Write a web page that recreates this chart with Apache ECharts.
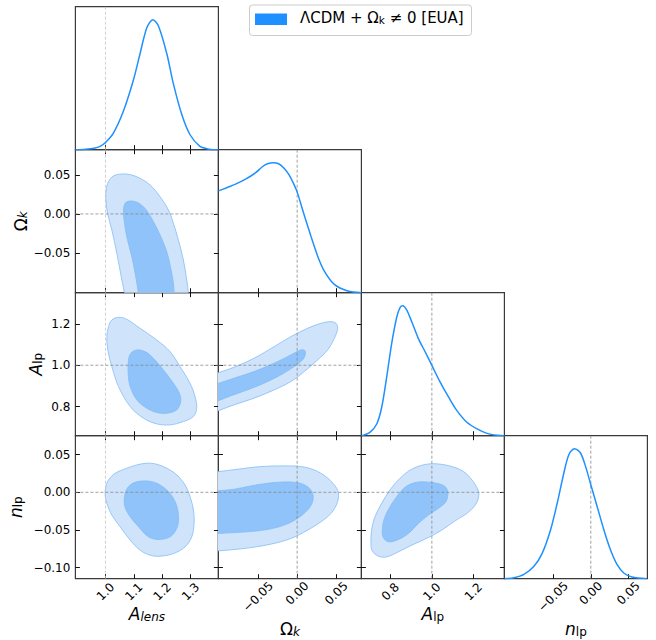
<!DOCTYPE html>
<html><head><meta charset="utf-8">
<script src="https://cdn.jsdelivr.net/npm/echarts@6/dist/echarts.min.js"></script>
<style>html,body{margin:0;padding:0;background:#fff}#chart{width:656px;height:640px}</style>
</head><body><div id="chart"></div>
<script>
// ---------------- DATA ----------------
const paramKeys = ['alens', 'omk', 'alp', 'nlp'];
const legendLabel = 'ΛCDM + Ω{lsub|k} ≠ 0 [EUA]';

// axis ranges
const alensRange = [0.894, 1.398];
const omkRange = [-0.1005, 0.082];
const alpRange = [0.66, 1.35];
const nlpRange = [-0.1148, 0.0752];

// tick values and labels
const alensTicks = [1.0, 1.1, 1.2, 1.3];
const alensTickLabels = ['1.0', '1.1', '1.2', '1.3'];
const omkTicks = [-0.05, 0.0, 0.05];
const omkTickLabels = ['\u22120.05', '0.00', '0.05'];
const alpTicks = [0.8, 1.0, 1.2];
const alpTickLabels = ['0.8', '1.0', '1.2'];
const nlpXTicks = [-0.05, 0.0, 0.05];
const nlpYTicks = [-0.10, -0.05, 0.0, 0.05];
const nlpTickLabels = ['\u22120.10', '\u22120.05', '0.00', '0.05'];

// reference (fiducial) values: dashed lines
const alensRef = [1.0];
const omkRef = [0.0];
const alpRef = [1.0];
const nlpRef = [0.0];

// 1D marginal posteriors (normalised to peak = 1)
const pdfAlens = [[0.894,0.0],[0.93,0.004],[0.96,0.012],[0.981,0.026],[1.0,0.056],[1.028,0.128],[1.063,0.295],[1.099,0.54],[1.122,0.74],[1.146,0.94],[1.167,1.0],[1.187,0.95],[1.216,0.74],[1.239,0.51],[1.269,0.27],[1.298,0.115],[1.333,0.026],[1.36,0.006],[1.38,0.0],[1.398,0.0]];
const pdfOmk = [[-0.1005,0.783],[-0.0914,0.804],[-0.0786,0.835],[-0.0658,0.873],[-0.0529,0.923],[-0.0444,0.969],[-0.0379,0.992],[-0.0303,1.0],[-0.0231,0.99],[-0.0167,0.957],[-0.0103,0.906],[-0.0038,0.829],[0.0005,0.766],[0.0069,0.638],[0.0176,0.434],[0.0262,0.281],[0.0347,0.166],[0.0474,0.064],[0.0646,0.013],[0.082,0.0]];
const pdfAlp = [[0.661,0.0],[0.701,0.026],[0.734,0.09],[0.758,0.219],[0.782,0.451],[0.806,0.709],[0.831,0.915],[0.847,0.987],[0.86,1.0],[0.879,0.966],[0.903,0.876],[0.935,0.747],[0.968,0.644],[1.0,0.541],[1.04,0.412],[1.081,0.296],[1.121,0.193],[1.169,0.103],[1.218,0.052],[1.266,0.018],[1.315,0.003],[1.35,0.0]];
const pdfNlp = [[-0.1145,0.0],[-0.102,0.008],[-0.0889,0.033],[-0.0755,0.095],[-0.0645,0.197],[-0.0534,0.377],[-0.0446,0.582],[-0.0358,0.813],[-0.0292,0.954],[-0.0216,1.0],[-0.0137,0.967],[-0.007,0.864],[0.0,0.723],[0.0084,0.556],[0.0173,0.377],[0.0261,0.223],[0.035,0.108],[0.0438,0.044],[0.0549,0.013],[0.0743,0.0]];

// 2D contours: [x, y] vertices, 95% (outer) and 68% (inner)
const cAlensOmk95 = [[1.07,-0.11],[1.067,-0.101],[1.0576,-0.0842],[1.04,-0.0502],[1.0224,-0.0204],[1.0072,0.0009],[1.0013,0.0179],[1.0025,0.0306],[1.0107,0.0413],[1.028,0.0485],[1.0576,0.051],[1.087,0.0502],[1.122,0.0455],[1.1572,0.037],[1.1924,0.0221],[1.2218,0.0051],[1.2394,-0.0119],[1.257,-0.0332],[1.2746,-0.0587],[1.2864,-0.0842],[1.2922,-0.1012],[1.294,-0.11]];
const cAlensOmk68 = [[1.119,-0.11],[1.1162,-0.1012],[1.1045,-0.0757],[1.0928,-0.0544],[1.0776,-0.0332],[1.067,-0.0119],[1.0635,0.0051],[1.0694,0.0136],[1.0811,0.0162],[1.0987,0.0162],[1.122,0.0128],[1.1455,0.0043],[1.169,-0.0098],[1.1924,-0.0268],[1.2159,-0.048],[1.23,-0.0693],[1.2394,-0.0884],[1.2418,-0.1012],[1.2425,-0.11]];
const cAlensAlp95 = [[1.0048,1.138],[1.0107,1.1862],[1.0224,1.2183],[1.0459,1.2312],[1.0752,1.2215],[1.122,1.1782],[1.1807,1.122],[1.2277,1.0657],[1.2629,0.9934],[1.298,0.9131],[1.3157,0.8488],[1.3215,0.7926],[1.3098,0.7525],[1.2746,0.7284],[1.2277,0.7123],[1.1807,0.7171],[1.1338,0.7444],[1.087,0.8007],[1.0459,0.897],[1.0224,0.9934],[1.0083,1.0737]];
const cAlensAlp68 = [[1.0811,1.0256],[1.0893,1.0577],[1.1104,1.0737],[1.1397,1.0657],[1.169,1.0336],[1.2041,0.9774],[1.2394,0.9131],[1.2605,0.865],[1.2652,0.8248],[1.2511,0.7846],[1.2159,0.7685],[1.1807,0.7717],[1.1455,0.7926],[1.1104,0.8328],[1.087,0.897],[1.0799,0.9613]];
const cOmkAlp95 = [[-0.12,0.938],[-0.1,0.9645],[-0.0807,0.9902],[-0.0551,1.0336],[-0.0294,1.0898],[-0.0081,1.138],[0.0133,1.1782],[0.0304,1.2023],[0.0432,1.2103],[0.0496,1.2023],[0.0517,1.1782],[0.0475,1.13],[0.0389,1.0737],[0.0261,1.0256],[0.009,0.9693],[-0.0081,0.9211],[-0.0294,0.881],[-0.0551,0.8408],[-0.0807,0.8087],[-0.1,0.7814],[-0.12,0.753]];
const cOmkAlp68 = [[-0.12,0.888],[-0.1,0.9131],[-0.0807,0.9372],[-0.0551,0.9693],[-0.0294,1.0095],[-0.0081,1.0497],[0.0047,1.0737],[0.0099,1.0705],[0.0103,1.0497],[0.0069,1.0256],[-0.0038,0.9934],[-0.0209,0.9533],[-0.0423,0.9131],[-0.0636,0.881],[-0.085,0.8521],[-0.1,0.8296],[-0.12,0.7996]];
const cAlensNlp95 = [[1.0013,0.0075],[1.0107,0.0164],[1.0342,0.0253],[1.0752,0.032],[1.1105,0.0364],[1.1457,0.0386],[1.1809,0.0373],[1.2161,0.032],[1.2513,0.0231],[1.2806,0.0097],[1.2982,-0.0058],[1.31,-0.0236],[1.3123,-0.0414],[1.3041,-0.0592],[1.2806,-0.0725],[1.2395,-0.0814],[1.1926,-0.0849],[1.1574,-0.0836],[1.1222,-0.0769],[1.087,-0.0636],[1.0518,-0.0458],[1.0224,-0.0303],[1.0048,-0.0147],[0.9989,-0.0036]];
const cAlensNlp68 = [[1.0658,-0.0125],[1.0694,-0.0014],[1.0811,0.0075],[1.1046,0.0133],[1.1457,0.0151],[1.1809,0.012],[1.2161,0.0031],[1.2395,-0.008],[1.2536,-0.0214],[1.2572,-0.0369],[1.2513,-0.048],[1.2278,-0.0592],[1.1867,-0.0627],[1.1515,-0.0592],[1.1163,-0.0458],[1.087,-0.0325],[1.0705,-0.0214]];
const cOmkNlp95 = [[-0.12,0.026],[-0.1004,0.0275],[-0.0765,0.0306],[-0.0465,0.0342],[-0.0166,0.0351],[0.0047,0.0342],[0.0218,0.0297],[0.0368,0.0208],[0.0475,0.0097],[0.0526,-0.0005],[0.0509,-0.0147],[0.0432,-0.028],[0.0304,-0.0392],[0.0133,-0.0503],[-0.0081,-0.0614],[-0.0337,-0.0689],[-0.0679,-0.0747],[-0.1004,-0.0778],[-0.12,-0.079]];
const cOmkNlp68 = [[-0.12,0.0018],[-0.1004,0.0022],[-0.0807,0.004],[-0.0594,0.0084],[-0.038,0.012],[-0.0188,0.0137],[0.0005,0.0128],[0.0133,0.0075],[0.0197,-0.0014],[0.0197,-0.0125],[0.0133,-0.0236],[0.0005,-0.0347],[-0.0166,-0.0436],[-0.038,-0.0494],[-0.0636,-0.0525],[-0.085,-0.0538],[-0.1004,-0.0547],[-0.12,-0.0552]];
const cAlpNlp95 = [[0.706,-0.068],[0.7093,-0.0502],[0.7254,-0.0325],[0.7577,-0.0147],[0.7981,0.0031],[0.8465,0.0187],[0.903,0.0307],[0.9676,0.0369],[1.0241,0.0378],[1.0967,0.0342],[1.1532,0.0275],[1.1935,0.0164],[1.2226,0.0031],[1.2258,-0.0058],[1.2097,-0.0169],[1.1693,-0.028],[1.1128,-0.0378],[1.0483,-0.0502],[0.9837,-0.06],[0.903,-0.0702],[0.8384,-0.0791],[0.7819,-0.0858],[0.7416,-0.0849],[0.7125,-0.0778]];
const cAlpNlp68 = [[0.7609,-0.0502],[0.7706,-0.0347],[0.7981,-0.0191],[0.8304,-0.0058],[0.8707,0.0067],[0.9191,0.0129],[0.9676,0.0138],[1.0241,0.012],[1.0644,0.0075],[1.0773,-0.0013],[1.0677,-0.0125],[1.0321,-0.0213],[0.9837,-0.0302],[0.9353,-0.0413],[0.8868,-0.0547],[0.8384,-0.0627],[0.79,-0.0658],[0.7658,-0.06]];

// ---------------- CONFIG ----------------
const FONT = 'DejaVu Sans';
const BLUE = '#1e90ff';
const FILL95 = '#cfe4fb';
const FILL68 = '#8fc3f9';
const EDGE = '#84bcf5';

const P = {
  alens: {range: alensRange, xt: alensTicks, yt: alensTicks, lab: [alensTicks, alensTickLabels], ref: alensRef, pdf: pdfAlens,
    name: '{i|A}{isub|lens}', xGap: 22, yGap: 40, xMargin: 13, refColor: '#c4c4c4'},
  omk: {range: omkRange, xt: omkTicks, yt: omkTicks, lab: [omkTicks, omkTickLabels], ref: omkRef, pdf: pdfOmk,
    name: '{r|Ω}{isub|k}', xGap: 37, yGap: 46, xMargin: 14.5, refColor: '#888'},
  alp: {range: alpRange, xt: alpTicks, yt: alpTicks, lab: [alpTicks, alpTickLabels], ref: alpRef, pdf: pdfAlp,
    name: '{i|A}{sub|lp}', xGap: 22, yGap: 31, xMargin: 13, refColor: '#888'},
  nlp: {range: nlpRange, xt: nlpXTicks, yt: nlpYTicks, lab: [nlpYTicks, nlpTickLabels], ref: nlpRef, pdf: pdfNlp,
    name: '{i|n}{sub|lp}', xGap: 37, yGap: 51, xMargin: 14.5, refColor: '#888'}
};
const contours = {
  '1-0': [cAlensOmk95, cAlensOmk68],
  '2-0': [cAlensAlp95, cAlensAlp68],
  '2-1': [cOmkAlp95, cOmkAlp68],
  '3-0': [cAlensNlp95, cAlensNlp68],
  '3-1': [cOmkNlp95, cOmkNlp68],
  '3-2': [cAlpNlp95, cAlpNlp68]
};

const nameRich = {
  i: {fontFamily: FONT, fontSize: 17, fontStyle: 'italic', lineHeight: 22, verticalAlign: 'bottom', color: '#000'},
  r: {fontFamily: FONT, fontSize: 17, lineHeight: 22, verticalAlign: 'bottom', color: '#000'},
  isub: {fontFamily: FONT, fontSize: 12, fontStyle: 'italic', lineHeight: 11, verticalAlign: 'bottom', color: '#000'},
  sub: {fontFamily: FONT, fontSize: 12, lineHeight: 11, verticalAlign: 'bottom', color: '#000'}
};

function fmt(lab) {
  return function (v) {
    const i = lab[0].findIndex(t => Math.abs(t - v) < 1e-9);
    return i >= 0 ? lab[1][i] : '';
  };
}
function fmtX(lab) {
  const f = fmt(lab);
  return function (v) {
    const s = f(v);
    return s.charAt(0) === '\u2212' ? '{neg|' + s + '}' : '{pos|' + s + '}';
  };
}

const L0 = 75.4, T0 = 6.7, S = 143.0;
const grids = [], xAxes = [], yAxes = [], series = [];

function tickCfg(vals) {
  return {show: true, inside: true, length: 4.5, customValues: vals, lineStyle: {color: '#111', width: 1}};
}
function baseAxis(gi, pos, range, ticks) {
  return {type: 'value', gridIndex: gi, position: pos, min: range[0], max: range[1],
    axisLine: {show: false, onZero: false}, splitLine: {show: false},
    axisTick: tickCfg(ticks), axisLabel: {show: false}};
}

for (let r = 0; r < 4; r++) {
  for (let c = 0; c <= r; c++) {
    const gi = grids.length;
    grids.push({left: L0 + c * S, top: T0 + r * S, width: S, height: S, show: true,
      borderColor: '#3a3a3a', borderWidth: 1.2, containLabel: false, outerBoundsMode: 'none'});
    const px = P[paramKeys[c]], py = P[paramKeys[r]];
    const diag = r === c;
    // bottom x axis
    const xb = baseAxis(gi, 'bottom', px.range, px.xt);
    if (r === 3) {
      xb.axisLabel = {show: true, customValues: px.xt, rotate: 45, align: 'center', verticalAlign: 'middle',
        margin: px.xMargin, formatter: fmtX(px.lab),
        rich: {
          pos: {fontFamily: FONT, fontSize: 12, color: '#000'},
          neg: {fontFamily: FONT, fontSize: 12, color: '#000', padding: [5, 5, 0, 0]}
        }};
      xb.name = px.name; xb.nameLocation = 'middle'; xb.nameGap = px.xGap;
      xb.nameTextStyle = {rich: nameRich};
    }
    const xbIndex = xAxes.length; xAxes.push(xb);
    if (!diag) xAxes.push(baseAxis(gi, 'top', px.range, px.xt));
    // y axes
    let ylIndex;
    if (diag) {
      ylIndex = yAxes.length;
      yAxes.push({type: 'value', gridIndex: gi, min: 0, max: 1.1, show: false});
    } else {
      const yl = baseAxis(gi, 'left', py.range, py.yt);
      if (c === 0) {
        yl.axisLabel = {show: true, customValues: py.yt, margin: 5, formatter: fmt(py.lab),
          fontFamily: FONT, fontSize: 12, color: '#000'};
        yl.name = py.name; yl.nameLocation = 'middle'; yl.nameGap = py.yGap; yl.nameRotate = 90;
        yl.nameTextStyle = {rich: nameRich};
      }
      ylIndex = yAxes.length; yAxes.push(yl);
      yAxes.push(baseAxis(gi, 'right', py.range, py.yt));
    }

    if (diag) {
      series.push({type: 'line', xAxisIndex: xbIndex, yAxisIndex: ylIndex, data: px.pdf, showSymbol: false,
        smooth: 0.3, clip: true, silent: true, z: 3, lineStyle: {color: BLUE, width: 1.5}});
      px.ref.forEach(m => series.push({type: 'line', xAxisIndex: xbIndex, yAxisIndex: ylIndex,
        data: [[m, 0], [m, 1.1]], showSymbol: false, silent: true, z: 2,
        lineStyle: {color: px.refColor, width: 0.8, type: [3, 2]}}));
    } else {
      const cs = contours[r + '-' + c];
      [[cs[0], FILL95], [cs[1], FILL68]].forEach(([poly, fill], k) => {
        series.push({type: 'custom', xAxisIndex: xbIndex, yAxisIndex: ylIndex, clip: true, silent: true, z: 1 + k * 0.1,
          data: [poly[0]],
          renderItem: function (params, api) {
            return {type: 'polygon', shape: {points: poly.map(p => api.coord(p)), smooth: 0.35},
              style: {fill: fill, stroke: EDGE, lineWidth: 0.8}};
          }});
      });
      px.ref.forEach(m => series.push({type: 'line', xAxisIndex: xbIndex, yAxisIndex: ylIndex,
        data: [[m, py.range[0]], [m, py.range[1]]], showSymbol: false, silent: true, z: 4,
        lineStyle: {color: px.refColor, width: 0.8, type: [3, 2]}}));
      py.ref.forEach(m => series.push({type: 'line', xAxisIndex: xbIndex, yAxisIndex: ylIndex,
        data: [[px.range[0], m], [px.range[1], m]], showSymbol: false, silent: true, z: 4,
        lineStyle: {color: py.refColor, width: 0.8, type: [3, 2]}}));
    }
  }
}

const chart = echarts.init(document.getElementById('chart'), null, {renderer: 'svg', width: 656, height: 640});
chart.setOption({
  animation: false,
  backgroundColor: '#fff',
  textStyle: {fontFamily: FONT},
  grid: grids, xAxis: xAxes, yAxis: yAxes, series: series,
  graphic: [
    {type: 'rect', left: 249, top: 4.5, shape: {width: 222, height: 30.5, r: 3},
      style: {fill: '#fff', stroke: '#cccccc', lineWidth: 1}, z: 10},
    {type: 'rect', left: 255, top: 13.5, shape: {width: 32, height: 11.5},
      style: {fill: BLUE}, z: 11},
    {type: 'text', left: 300, top: 10, z: 11,
      style: {text: legendLabel, fontFamily: FONT, fontSize: 15, fill: '#000',
        rich: {lsub: {fontFamily: FONT, fontSize: 10.5, verticalAlign: 'bottom', lineHeight: 10, fill: '#000'}}}}
  ]
});
</script></body></html>
